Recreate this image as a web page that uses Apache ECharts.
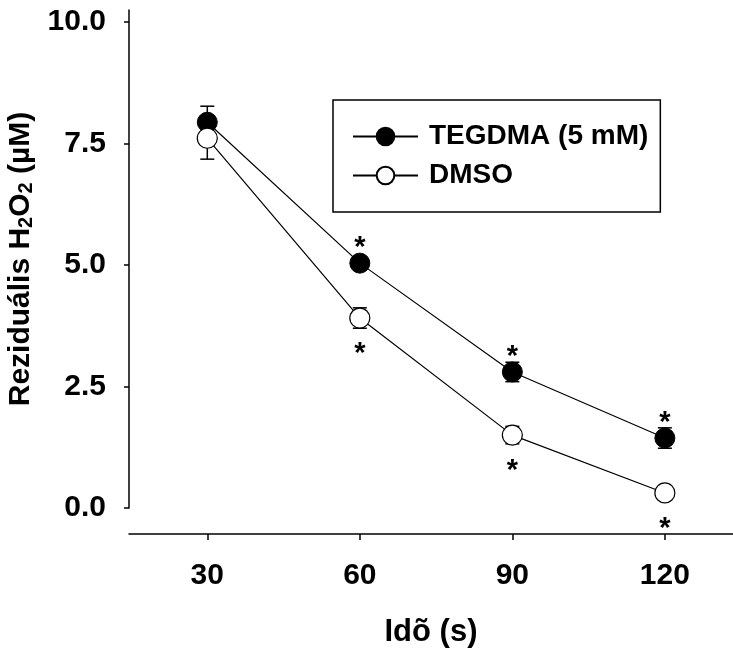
<!DOCTYPE html>
<html>
<head>
<meta charset="utf-8">
<title>Reziduális H2O2</title>
<script src="https://cdn.jsdelivr.net/npm/echarts@6/dist/echarts.min.js"></script>
<style>
html, body { margin: 0; padding: 0; background: #fff; }
#main { width: 733px; height: 658px; }
</style>
</head>
<body>
<div id="main"></div>
<script>
// adatok (értékek)
var times = [30, 60, 90, 120];
var tegdma = [7.94, 5.04, 2.80, 1.44];
var tegdmaErr = [0.33, 0.1, 0.2, 0.21];
var dmso = [7.61, 3.91, 1.50, 0.31];
var dmsoErr = [0.43, 0.21, 0.18, 0.08];
var tegdmaSig = ['', '*', '*', '*'];
var dmsoSig = ['', '*', '*', '*'];
var yTicks = [0, 2.5, 5, 7.5, 10];
var xTicks = [30, 60, 90, 120];

var font = 'Liberation Sans, Arial, sans-serif';

function pts(vals, sig, up) {
    return times.map(function (t, i) {
        return {
            value: [t, vals[i]],
            label: {
                show: sig[i] !== '',
                formatter: sig[i],
                position: 'inside',
                offset: [0, up ? -15 : 36],
                color: '#000',
                fontSize: 29,
                fontWeight: 'bold',
                fontFamily: font
            }
        };
    });
}

function errData(vals, errs) {
    return times.map(function (t, i) { return [t, vals[i], errs[i]]; });
}

function errRender(params, api) {
    var x = api.value(0), y = api.value(1), e = api.value(2);
    var hi = api.coord([x, y + e]);
    var lo = api.coord([x, y - e]);
    var w = 7;
    var st = { stroke: '#000', lineWidth: 1.5 };
    return {
        type: 'group',
        children: [
            { type: 'line', shape: { x1: hi[0], y1: hi[1], x2: lo[0], y2: lo[1] }, style: st },
            { type: 'line', shape: { x1: hi[0] - w, y1: hi[1], x2: hi[0] + w, y2: hi[1] }, style: st },
            { type: 'line', shape: { x1: lo[0] - w, y1: lo[1], x2: lo[0] + w, y2: lo[1] }, style: st }
        ]
    };
}

var myChart = echarts.init(document.getElementById('main'));

var option = {
    backgroundColor: '#fff',
    animation: false,
    grid: {
        left: 129,
        right: 0,
        top: 10,
        bottom: 150,
        containLabel: false,
        outerBoundsMode: 'none'
    },
    legend: {
        data: ['TEGDMA (5 mM)', 'DMSO'],
        orient: 'vertical',
        left: 333,
        top: 100,
        padding: [21, 12, 21, 19],
        itemGap: 8,
        itemWidth: 65,
        itemHeight: 22,
        borderColor: '#000',
        borderWidth: 1.5,
        textStyle: {
            color: '#000',
            fontSize: 28,
            fontWeight: 'bold',
            fontFamily: font,
            lineHeight: 31,
            padding: [0, 0, 0, 6]
        }
    },
    xAxis: {
        type: 'value',
        min: 14.6,
        max: 133.4,
        offset: 26,
        name: 'Idõ (s)',
        nameLocation: 'middle',
        nameGap: 83,
        nameTextStyle: { color: '#000', fontSize: 31, fontWeight: 'bold', fontFamily: font },
        axisLine: { onZero: false, lineStyle: { color: '#000', width: 1.5 } },
        axisTick: { customValues: xTicks, length: 6, lineStyle: { color: '#000', width: 1.5 } },
        axisLabel: {
            customValues: xTicks,
            margin: 27,
            color: '#000',
            fontSize: 30,
            fontWeight: 'bold',
            fontFamily: font
        },
        splitLine: { show: false }
    },
    yAxis: {
        type: 'value',
        min: 0,
        max: 10.25,
        name: '{a|Reziduális H}{s|2}{a|O}{s|2}{a| (µM)}',
        nameLocation: 'middle',
        nameRotate: 90,
        nameGap: 91,
        nameTextStyle: {
            color: '#000',
            fontFamily: font,
            rich: {
                a: { fontSize: 30, fontWeight: 'bold', fontFamily: font, color: '#000', lineHeight: 32 },
                s: { fontSize: 20, fontWeight: 'bold', fontFamily: font, color: '#000', lineHeight: 20,
                     verticalAlign: 'bottom', padding: [13, 0, 0, 0] }
            }
        },
        axisLine: { show: true, onZero: false, lineStyle: { color: '#000', width: 1.5 } },
        axisTick: { show: true, customValues: yTicks, length: 5, lineStyle: { color: '#000', width: 1.5 } },
        axisLabel: {
            customValues: yTicks,
            margin: 23,
            color: '#000',
            fontSize: 30,
            fontWeight: 'bold',
            fontFamily: font,
            formatter: function (v) { return v.toFixed(1); }
        },
        splitLine: { show: false }
    },
    series: [
        {
            name: 'TEGDMA hiba',
            type: 'custom',
            renderItem: errRender,
            data: errData(tegdma, tegdmaErr),
            z: 1,
            silent: true
        },
        {
            name: 'DMSO hiba',
            type: 'custom',
            renderItem: errRender,
            data: errData(dmso, dmsoErr),
            z: 1,
            silent: true
        },
        {
            name: 'TEGDMA (5 mM)',
            type: 'line',
            data: pts(tegdma, tegdmaSig, true),
            symbol: 'circle',
            symbolSize: 20,
            lineStyle: { color: '#000', width: 1.2 },
            itemStyle: { color: '#000', borderColor: '#000', borderWidth: 1 },
            z: 3
        },
        {
            name: 'DMSO',
            type: 'line',
            data: pts(dmso, dmsoSig, false),
            symbol: 'circle',
            symbolSize: 20,
            lineStyle: { color: '#000', width: 1.2 },
            itemStyle: { color: '#fff', borderColor: '#000', borderWidth: 1.2 },
            z: 3
        }
    ]
};

myChart.setOption(option);
</script>
</body>
</html>
